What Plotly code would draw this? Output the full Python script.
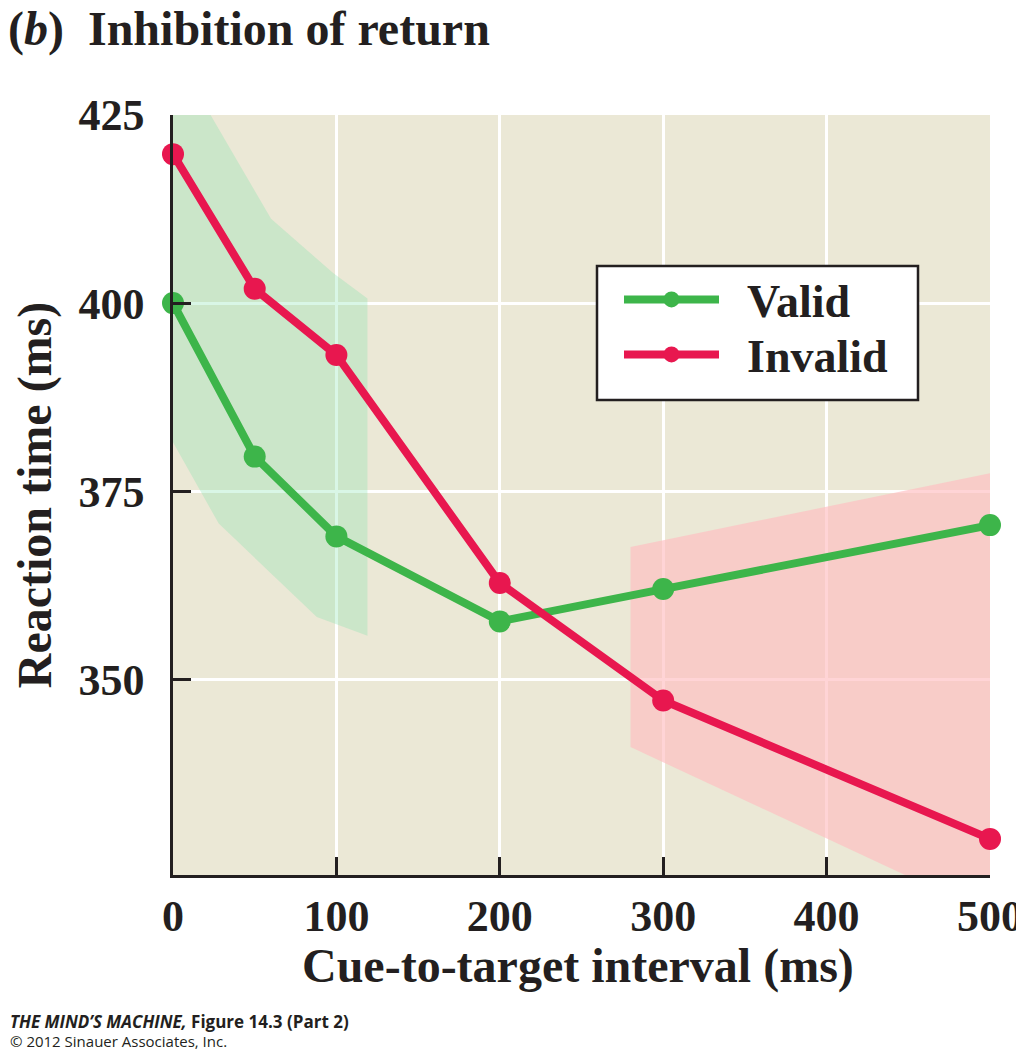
import plotly.graph_objects as go

# ---- data ----
intervals = [0, 50, 100, 200, 300, 500]
valid_rt = [400.0, 379.6, 369.0, 357.7, 362.0, 370.5]
invalid_rt = [419.8, 401.9, 393.1, 362.8, 347.2, 328.8]

# shaded regions (outline vertices, data units)
green_band_x = [0, 23, 60, 98, 119, 119, 88, 28, 0]
green_band_y = [425, 425, 411.2, 404.0, 400.6, 355.8, 358.3, 370.7, 381.5]
red_band_x = [280, 500, 500, 448, 280]
red_band_y = [367.6, 377.4, 324, 324, 341.0]

x_ticks = [0, 100, 200, 300, 400, 500]
y_ticks = [350, 375, 400, 425]

GREEN = "#3db54a"
RED = "#e8174f"
SERIF = "Liberation Serif"
INK = "#231f20"

# page has an 8px body margin; figure is sized/offset to compensate
W, H = 1016, 1043
PL, PR, PT, PB = 165, 982, 107, 867  # plot area in figure pixels


def px_x(page_x):
    return (page_x - 8 - PL) / (PR - PL)


def px_y(page_y):
    return (PB - (page_y - 8)) / (PB - PT)


fig = go.Figure()

fig.add_trace(go.Scatter(x=green_band_x, y=green_band_y, fill="toself", mode="none",
                         fillcolor="rgba(128,225,171,0.30)", showlegend=False, hoverinfo="skip"))
fig.add_trace(go.Scatter(x=red_band_x, y=red_band_y, fill="toself", mode="none",
                         fillcolor="rgba(255,189,192,0.65)", showlegend=False, hoverinfo="skip"))

fig.add_trace(go.Scatter(x=intervals, y=valid_rt, name="\u2002<b>Valid</b>", mode="lines+markers",
                         line=dict(color=GREEN, width=8), marker=dict(color=GREEN, size=22),
                         cliponaxis=False, legend="legend"))
fig.add_trace(go.Scatter(x=intervals, y=invalid_rt, name="\u2002<b>Invalid</b>", mode="lines+markers",
                         line=dict(color=RED, width=8), marker=dict(color=RED, size=22),
                         cliponaxis=False, legend="legend2"))

legend_common = dict(xanchor="left", yanchor="top", bgcolor="rgba(0,0,0,0)", borderwidth=0,
                     font=dict(family=SERIF, size=46, color=INK), itemwidth=95)

fig.update_layout(
    width=W, height=H,
    margin=dict(l=PL, r=W - PR, t=PT, b=H - PB, autoexpand=False),
    paper_bgcolor="white",
    plot_bgcolor="#ebe8d6",
    font=dict(family=SERIF, color=INK),
    title=dict(text="<b>(<i>b</i>)  Inhibition of return</b>", x=0.0, xanchor="left",
               xref="container", y=1 - 20 / H, yanchor="middle", yref="container",
               font=dict(family=SERIF, size=48, color=INK)),
    legend=dict(x=px_x(619), y=px_y(263), **legend_common),
    legend2=dict(x=px_x(619), y=px_y(318), **legend_common),
    showlegend=True,
    shapes=[dict(type="rect", xref="paper", yref="paper",
                 x0=px_x(597), x1=px_x(918), y0=px_y(400), y1=px_y(266),
                 line=dict(color=INK, width=2.5), fillcolor="white", layer="above")],
)

fig.update_xaxes(range=[0, 500], tickvals=x_ticks, ticktext=[f"<b>{v}</b>" for v in x_ticks],
                 automargin=False,
                 showline=True, linecolor=INK, linewidth=2.5, ticks="inside", ticklen=18,
                 tickwidth=2.5, tickcolor=INK, showgrid=True, gridcolor="white", gridwidth=3,
                 zeroline=False, tickfont=dict(family=SERIF, size=44, color=INK))
fig.update_yaxes(range=[324, 425], tickvals=y_ticks, ticktext=[f"<b>{v}</b>" for v in y_ticks],
                 automargin=False,
                 showline=True, linecolor=INK, linewidth=2.5, ticks="inside", ticklen=18,
                 tickwidth=2.5, tickcolor=INK, showgrid=True, gridcolor="white", gridwidth=3,
                 zeroline=False, tickfont=dict(family=SERIF, size=44, color=INK),
                 ticklabelstandoff=17,
                 title=dict(text="<b>Reaction time (ms)</b>",
                            font=dict(family=SERIF, size=48, color=INK), standoff=32))

# x-axis title
fig.add_annotation(text="<b>Cue-to-target interval (ms)</b>",
                   xref="paper", yref="paper", x=px_x(578), y=px_y(966),
                   xanchor="center", yanchor="middle", showarrow=False,
                   font=dict(family=SERIF, size=48, color=INK))

fig.add_annotation(text="<b><i>THE MIND’S MACHINE,</i> Figure 14.3 (Part 2)</b>",
                   xref="paper", yref="paper", x=px_x(8), y=px_y(1021),
                   xanchor="left", yanchor="middle", showarrow=False,
                   font=dict(family="Open Sans", size=17, color=INK))
fig.add_annotation(text="© 2012 Sinauer Associates, Inc.",
                   xref="paper", yref="paper", x=px_x(8), y=px_y(1041),
                   xanchor="left", yanchor="middle", showarrow=False,
                   font=dict(family="Open Sans", size=15, color=INK))

fig.write_html("out.html")
